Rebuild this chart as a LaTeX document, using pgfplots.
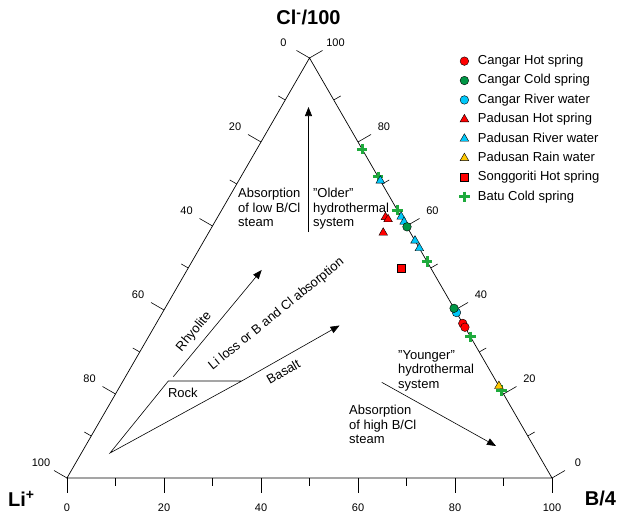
\documentclass[border=0pt]{standalone}
\usepackage{fontspec}
\setmainfont{Liberation Sans}
\usepackage{pgfplots}
\usepackage{pgfplotstable}
\pgfplotsset{compat=1.18}
\usetikzlibrary{arrows.meta}
\pgfplotsset{/pgfplots/table/tern/.style={x expr=\thisrow{b}+0.5*\thisrow{c}, y expr=0.866025*\thisrow{c}}}

\definecolor{chot}{RGB}{255,0,0}
\definecolor{ccold}{RGB}{0,150,70}
\definecolor{criver}{RGB}{0,200,250}
\definecolor{prain}{RGB}{255,200,0}
\definecolor{batu}{RGB}{30,170,60}

% columns: b = B/4 share, c = Cl/100 share (Li = 100 - b - c)
\pgfplotstableread{
b c
63.2 36.8
64.1 35.9
}\cangarhot
\pgfplotstableread{
b c
40.2 59.8
59.6 40.4
}\cangarcold
\pgfplotstableread{
b c
60.6 39.4
}\cangarriver
\pgfplotstableread{
b c
34.6 62.1
35.4 61.6
36.0 58.4
}\padusanhot
\pgfplotstableread{
b c
29.2 70.8
37.8 62.2
39.0 61.0
43.5 56.5
45.3 54.7
}\padusanriver
\pgfplotstableread{
b c
78.1 21.9
}\padusanrain
\pgfplotstableread{
b c
43.9 49.9
}\songgoriti
\pgfplotstableread{
b c
21.7 78.3
28.3 71.7
36.2 63.8
48.5 51.5
66.4 33.6
79.2 20.8
}\batu

\newcommand{\tickfont}{\fontsize{11}{12}\selectfont}
\newcommand{\annfont}{\fontsize{13}{14.5}\selectfont}

\begin{document}
\begin{tikzpicture}
\begin{axis}[
  x=4.85pt, y=4.85pt,
  xmin=-13.814, xmax=113.402, ymin=-8.041, ymax=98.557,
  hide axis, clip=false,
  reverse legend,
  legend cell align=left,
  legend image code/.code={\draw[#1] plot coordinates {(0pt,0pt)}; \path (-4.5pt,0pt) (12pt,0pt);},
  legend style={at={(axis cs:80.7,87.95)}, anchor=north west, draw=none, fill=none,
    inner sep=0pt, outer sep=0pt, font=\annfont,
    nodes={text height=9.5pt, text depth=2.8pt, inner ysep=3.55pt, inner xsep=0pt}},
]
% triangle
\draw[line width=0.7pt] (axis cs:0,0) -- (axis cs:100,0) -- (axis cs:50,86.6025) -- cycle;
% major ticks
\pgfplotsinvokeforeach{0,20,40,60,80,100}{
  \draw[line width=0.6pt] (axis cs:#1,0) -- ++(0pt,-15pt);
  \path (axis cs:#1,0) ++(0pt,-30pt) node[font=\tickfont]{#1};
  \draw[line width=0.6pt] (axis cs:{(100-#1)/2},{0.866025*(100-#1)}) -- ++(150:15pt);
  \path (axis cs:{(100-#1)/2},{0.866025*(100-#1)}) ++(150:30pt) node[font=\tickfont]{#1};
  \draw[line width=0.6pt] (axis cs:{100-#1/2},{0.866025*#1}) -- ++(30:15pt);
  \path (axis cs:{100-#1/2},{0.866025*#1}) ++(30:30pt) node[font=\tickfont]{#1};
}
\pgfplotsinvokeforeach{10,30,50,70,90}{
  \draw[line width=0.6pt] (axis cs:#1,0) -- ++(0pt,-8pt);
  \draw[line width=0.6pt] (axis cs:{(100-#1)/2},{0.866025*(100-#1)}) -- ++(150:8pt);
  \draw[line width=0.6pt] (axis cs:{100-#1/2},{0.866025*#1}) -- ++(30:8pt);
}
% vertex labels
\node[font=\fontsize{20}{22}\selectfont\bfseries] at (axis cs:49.8,94.9) {Cl\textsuperscript{-}/100};
\node[font=\fontsize{20}{22}\selectfont\bfseries] at (axis cs:-9.4,-4.3) {Li\textsuperscript{+}};
\node[font=\fontsize{20}{22}\selectfont\bfseries] at (axis cs:110.0,-4.3) {B/4};
% rock lines and arrows
\draw[line width=0.6pt] (axis cs:36.02,20.0) -- (axis cs:20.89,20.0) -- (axis cs:8.87,5.15) -- (axis cs:36.02,20.0);
\draw[line width=0.6pt, -{Triangle[length=9pt,width=7pt]}] (axis cs:21.92,20.89) -- (axis cs:40.14,42.89);
\draw[line width=0.6pt, -{Triangle[length=9pt,width=7pt]}] (axis cs:36.02,20.0) -- (axis cs:56.19,31.44);
\draw[line width=0.6pt, -{Triangle[length=9pt,width=7pt]}] (axis cs:49.79,50.72) -- (axis cs:49.79,76.49);
\draw[line width=0.6pt, -{Triangle[length=9pt,width=7pt]}] (axis cs:64.89,19.73) -- (axis cs:88.45,6.60);
% annotations
\node[font=\annfont, anchor=center] at (axis cs:23.9,17.5) {Rock};
\node[font=\annfont, rotate=50] at (axis cs:26.2,30.1) {Rhyolite};
\node[font=\annfont, rotate=39] at (axis cs:43.2,33.8) {Li loss or B and Cl absorption};
\node[font=\annfont, rotate=30] at (axis cs:44.6,21.9) {Basalt};
\node[font=\annfont, anchor=north west, align=left, inner sep=0pt] at (axis cs:35.26,59.8) {Absorption\\of low B/Cl\\steam};
\node[font=\annfont, anchor=north west, align=left, inner sep=0pt] at (axis cs:50.7,59.8) {"Older"\\hydrothermal\\system};
\node[font=\annfont, anchor=north west, align=left, inner sep=0pt] at (axis cs:68.25,26.4) {"Younger"\\hydrothermal\\system};
\node[font=\annfont, anchor=north west, align=left, inner sep=0pt] at (axis cs:58.14,15.05) {Absorption\\of high B/Cl\\steam};
% data (drawn bottom to top)
\addplot[only marks, mark=+, mark size=5.3pt, line width=3pt, color=batu] table[tern] {\batu};
\addlegendentry{Batu Cold spring}
\addplot[only marks, mark=square*, mark size=4.1pt, mark options={draw=black, fill=chot, line width=0.4pt}] table[tern] {\songgoriti};
\addlegendentry{Songgoriti Hot spring}
\addplot[only marks, mark=triangle*, mark size=5pt, mark options={draw=black, fill=prain, line width=0.4pt}] table[tern] {\padusanrain};
\addlegendentry{Padusan Rain water}
\addplot[only marks, mark=triangle*, mark size=5pt, mark options={draw=black, fill=criver, line width=0.4pt}] table[tern] {\padusanriver};
\addlegendentry{Padusan River water}
\addplot[only marks, mark=triangle*, mark size=5pt, mark options={draw=black, fill=chot, line width=0.4pt}] table[tern] {\padusanhot};
\addlegendentry{Padusan Hot spring}
\addplot[only marks, mark=*, mark size=4.3pt, mark options={draw=black, fill=criver, line width=0.4pt}] table[tern] {\cangarriver};
\addlegendentry{Cangar River water}
\addplot[only marks, mark=*, mark size=4.3pt, mark options={draw=black, fill=ccold, line width=0.4pt}] table[tern] {\cangarcold};
\addlegendentry{Cangar Cold spring}
\addplot[only marks, mark=*, mark size=4.3pt, mark options={draw=black, fill=chot, line width=0.4pt}] table[tern] {\cangarhot};
\addlegendentry{Cangar Hot spring}
\end{axis}
\pgfresetboundingbox
\path[use as bounding box] (current axis.south west) rectangle (current axis.north east);
\end{tikzpicture}
\end{document}
